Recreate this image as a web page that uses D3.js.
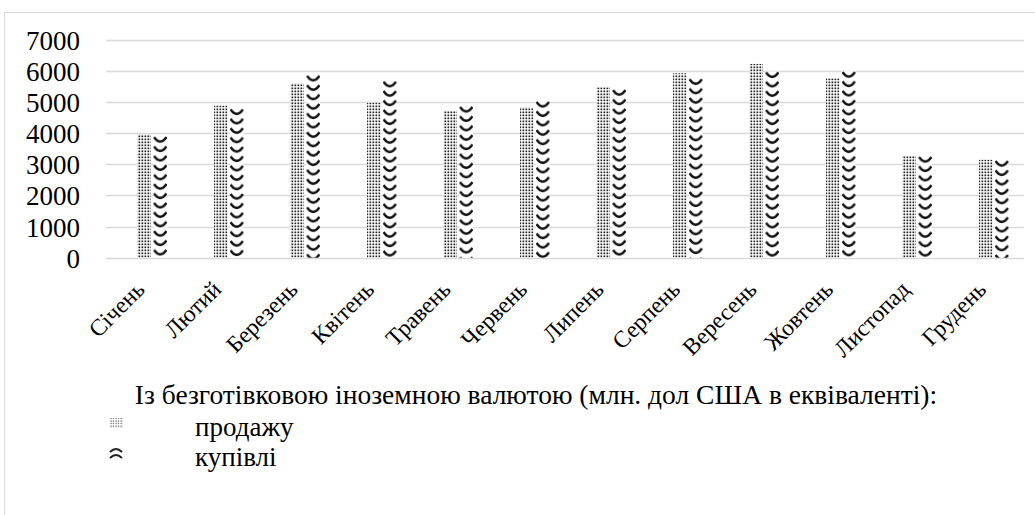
<!DOCTYPE html>
<html><head><meta charset="utf-8">
<script src="https://cdn.jsdelivr.net/npm/d3@7"></script>
<style>body{margin:0;background:#fff}svg{display:block}</style>
</head><body><svg id="c" width="1035" height="515"></svg>
<script>
const months = ["Січень","Лютий","Березень","Квітень","Травень","Червень","Липень","Серпень","Вересень","Жовтень","Листопад","Грудень"];
const sales = [3970,4890,5610,4980,4720,4840,5480,5930,6230,5770,3270,3150];
const purchases = [3910,4800,5880,5690,4880,5040,5420,5770,5990,6000,3270,3140];
const yTicks = [0,1000,2000,3000,4000,5000,6000,7000];
const legendTitle = "Із безготівковою іноземною валютою (млн. дол США в еквіваленті):";
const seriesNames = ["продажу","купівлі"];
const FONT = "'Liberation Serif','Times New Roman',serif";

const svg = d3.select("#c");
const defs = svg.append("defs");
svg.append("rect").attr("x",4.5).attr("y",12.5).attr("width",1100).attr("height",600)
  .attr("fill","none").attr("stroke","#d9d9d9");

const y = d3.scaleLinear().domain([0,7000]).range([257.7,40]);
const x = d3.scaleBand().domain(months).range([114,1032]);
const gridX0 = 106, gridX1 = 1024;
const barW = 13.5, gap = 2.5;

svg.append("g").selectAll("line").data(yTicks).join("line")
  .attr("x1",gridX0).attr("x2",gridX1)
  .attr("y1",d=>Math.round(y(d))+0.5).attr("y2",d=>Math.round(y(d))+0.5)
  .attr("stroke","#d9d9d9").attr("stroke-width",1.3);

const yAxis = d3.axisLeft(y).tickValues(yTicks).tickFormat(d3.format("d")).tickSize(0).tickPadding(0);
const ga = svg.append("g").attr("transform","translate(80,0)").call(yAxis);
ga.select(".domain").remove();
ga.attr("font-family",FONT).attr("font-size",27);
ga.selectAll("text").attr("fill","#000").attr("dy","0.35em");

const pd = defs.append("pattern").attr("id","dots").attr("patternUnits","userSpaceOnUse").attr("width",3).attr("height",3);
pd.append("rect").attr("width",3).attr("height",3).attr("fill","#fff");
pd.append("rect").attr("x",0.5).attr("y",0.5).attr("width",1.7).attr("height",1.7).attr("fill","#222");

svg.append("g").selectAll("rect").data(sales).join("rect")
  .attr("x",(d,i)=>x(months[i])+x.bandwidth()/2-barW-gap/2)
  .attr("y",d=>y(d)).attr("width",barW).attr("height",d=>y(0)-y(d))
  .attr("fill","url(#dots)");

purchases.forEach((d,i)=>{
  const bx = x(months[i])+x.bandwidth()/2+gap/2;
  const p = defs.append("pattern").attr("id","chev"+i).attr("patternUnits","userSpaceOnUse")
    .attr("x",bx).attr("y",y(d)).attr("width",barW).attr("height",9.4);
  p.append("rect").attr("width",barW).attr("height",9.4).attr("fill","#fff");
  p.append("path").attr("d",`M0.5,1 Q${barW/2},10 ${barW-0.5},1`).attr("fill","none").attr("stroke","#111").attr("stroke-width",2.4);
});
svg.append("g").selectAll("rect").data(purchases).join("rect")
  .attr("x",(d,i)=>x(months[i])+x.bandwidth()/2+gap/2)
  .attr("y",d=>y(d)).attr("width",barW).attr("height",d=>y(0)-y(d))
  .attr("fill",(d,i)=>`url(#chev${i})`);

const gx = svg.append("g").attr("font-family",FONT).attr("font-size",23.5);
gx.selectAll("text").data(months).join("text")
  .attr("transform",d=>`translate(${x(d)+x.bandwidth()/2-12},${285}) rotate(-45)`)
  .attr("text-anchor","end").attr("dy","0.35em").attr("fill","#000").text(d=>d);

const lg = svg.append("g").attr("font-family",FONT).attr("fill","#000");
lg.append("text").attr("x",536).attr("y",404).attr("text-anchor","middle").attr("font-size",27.5).text(legendTitle);
const li1 = defs.append("pattern").attr("id","ldots").attr("patternUnits","userSpaceOnUse").attr("width",2.5).attr("height",2.5);
li1.append("rect").attr("width",2.5).attr("height",2.5).attr("fill","#fff");
li1.append("rect").attr("x",0.5).attr("y",0.5).attr("width",1.2).attr("height",1.2).attr("fill","#555");
lg.append("rect").attr("x",109).attr("y",418).attr("width",14).attr("height",10).attr("fill","url(#ldots)");
lg.append("path").attr("d","M110,452 Q116,446 122,452 M110,458 Q116,452 122,458").attr("fill","none").attr("stroke","#222").attr("stroke-width",2);
lg.selectAll("text.item").data(seriesNames).join("text").attr("class","item")
  .attr("x",195).attr("y",(d,i)=>436+i*30).attr("font-size",27).text(d=>d);
</script></body></html>
